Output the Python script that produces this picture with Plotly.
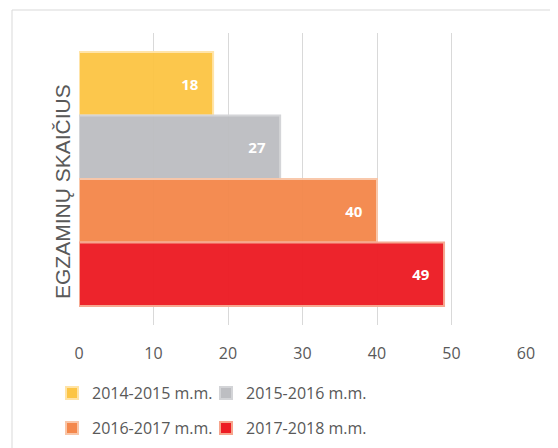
import plotly.graph_objects as go

categories = ["EGZAMINŲ SKAIČIUS"]
series_names = ["2014-2015 m.m.", "2015-2016 m.m.", "2016-2017 m.m.", "2017-2018 m.m."]
values = [18, 27, 40, 49]
colors = ["#FCC545", "#BDBEC2", "#F4884C", "#ED1C24"]
border_colors = ["#FFE3A6", "#D3D4D7", "#F9C6A8", "#F6A58D"]
x_ticks = [0, 10, 20, 30, 40, 50, 60]

# the page body adds an 8px offset; work in page pixels and convert
OFF = 8
W, H = 558 - OFF, 448 - OFF
PL, PR, PT, PB = 79, 526, 33, 325   # plot area in page pixels
L, T = PL - OFF, PT - OFF
R = W - (PR - OFF)
B = H - (PB - OFF)
pw, ph = PR - PL, PB - PT

def px_x(p):
    return (p - PL) / pw

def px_y(p):
    return (PB - p) / ph

legend_names = ["legend", "legend2", "legend3", "legend4"]
legend_pos = [(52, 376), (206, 376), (52, 411), (206, 411)]

fig = go.Figure()
for i, (name, v) in enumerate(zip(series_names, values)):
    fig.add_trace(go.Bar(
        y=categories, x=[v], name=name, orientation="h",
        marker=dict(color=colors[i], line=dict(color=border_colors[i], width=2), opacity=0.96),
        texttemplate="%{x}\u00a0\u00a0\u00a0", textposition="inside", insidetextanchor="end",
        textfont=dict(color="white", size=15, family="Open Sans", weight="bold"),
        legend=legend_names[i],
        hoverinfo="skip",
    ))

legend_common = dict(orientation="h", xanchor="left", yanchor="top",
                     font=dict(size=16, color="#595959", family="Open Sans"),
                     itemwidth=30, bgcolor="rgba(0,0,0,0)")

legends = {}
for n, (lx, ly) in zip(legend_names, legend_pos):
    legends[n] = dict(x=px_x(lx), y=px_y(ly), **legend_common)

fig.update_layout(
    width=W, height=H,
    margin=dict(l=L, r=R, t=T, b=B, pad=0, autoexpand=False),
    barmode="group", bargap=0.13, bargroupgap=0,
    plot_bgcolor="white", paper_bgcolor="white",
    font=dict(family="Open Sans", color="#595959", size=16),
    xaxis=dict(range=[0, 60], tickvals=x_ticks, showgrid=True, gridcolor="#D9D9D9",
               gridwidth=1, zeroline=False, showline=False, ticks="",
               ticklabelstandoff=17, tickfont=dict(size=16, color="#595959")),
    yaxis=dict(autorange="reversed", showticklabels=False, showgrid=False,
               zeroline=False, showline=False, automargin=False),
    annotations=[dict(text=categories[0], textangle=-90, xref="paper", yref="paper",
                      x=px_x(62), y=px_y(192), xanchor="center", yanchor="middle",
                      showarrow=False,
                      font=dict(size=21, color="#595959", family="Liberation Sans"))],
    shapes=[dict(type="rect", xref="paper", yref="paper",
                 x0=px_x(12), x1=px_x(600), y0=px_y(500), y1=px_y(10),
                 line=dict(color="#D9D9D9", width=1), layer="below")],
    showlegend=True,
    **legends,
)

fig.write_html("out.html")
